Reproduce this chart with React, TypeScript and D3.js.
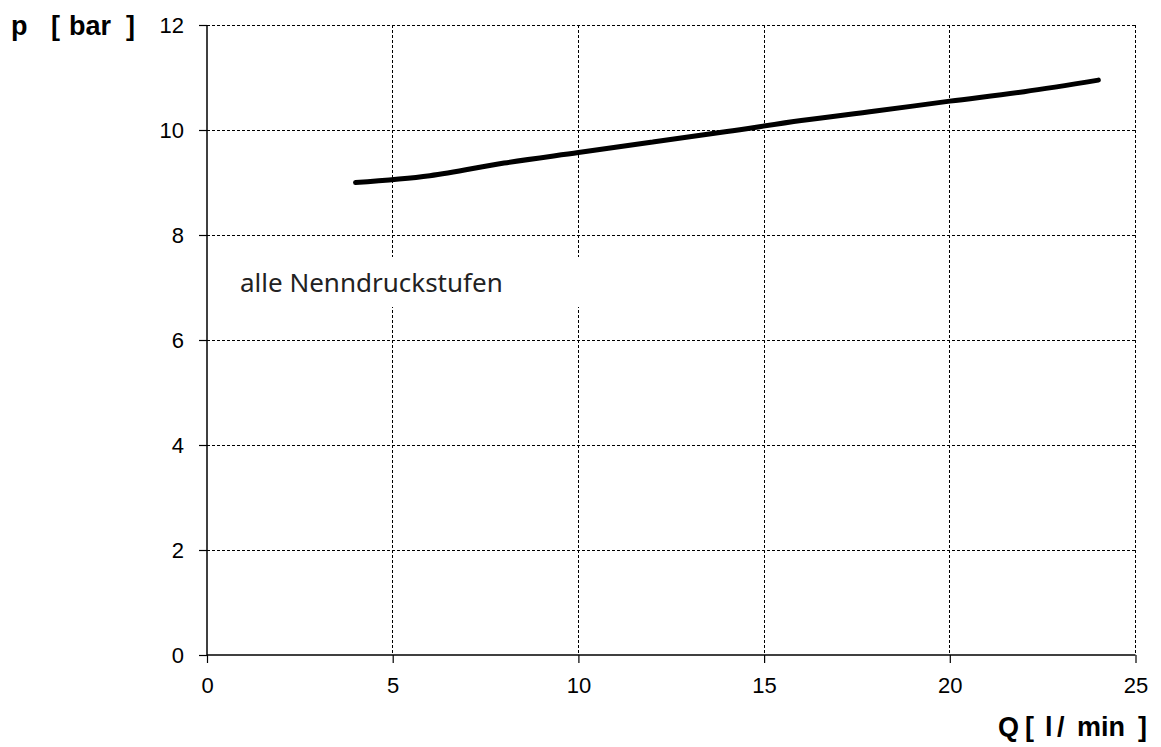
import { useEffect, useRef } from "react";
import * as d3 from "d3";

// flow rate Q [l/min]
const flow = [4, 6, 8, 10, 12, 14, 16, 18, 20, 22, 24];
// pressure p [bar]
const pressure = [9.0, 9.13, 9.37, 9.57, 9.77, 9.97, 10.18, 10.36, 10.55, 10.73, 10.95];

const xTicks = [0, 5, 10, 15, 20, 25];
const yTicks = [0, 2, 4, 6, 8, 10, 12];

export default function App() {
  const svgRef = useRef<SVGSVGElement>(null);
  const width = 1161;
  const height = 747;

  useEffect(() => {
    const svg = d3.select(svgRef.current);
    svg.selectAll("*").remove();

    const left = 207;
    const right = 1135.5;
    const top = 25;
    const bottom = 655;

    const x = d3.scaleLinear().domain([0, 25]).range([left, right]);
    const y = d3.scaleLinear().domain([0, 12]).range([bottom, top]);

    const font = "'Liberation Sans', Arial, sans-serif";

    // grid
    const grid = svg.append("g");
    yTicks.filter((t) => t > 0).forEach((t) => {
      grid.append("line")
        .attr("x1", left).attr("x2", right)
        .attr("y1", y(t)).attr("y2", y(t))
        .attr("stroke", "#000").attr("stroke-width", 1)
        .attr("stroke-dasharray", "3,2")
        .attr("shape-rendering", "crispEdges");
    });
    xTicks.filter((t) => t > 0).forEach((t) => {
      grid.append("line")
        .attr("x1", x(t)).attr("x2", x(t))
        .attr("y1", top).attr("y2", bottom)
        .attr("stroke", "#000").attr("stroke-width", 1)
        .attr("stroke-dasharray", "3,2")
        .attr("shape-rendering", "crispEdges");
    });

    // annotation box
    svg.append("rect")
      .attr("x", 222).attr("y", 257)
      .attr("width", 370).attr("height", 50)
      .attr("fill", "#fff");
    svg.append("text")
      .attr("x", 240).attr("y", 292)
      .attr("font-family", "'Noto Sans', 'Open Sans', sans-serif")
      .attr("font-size", 26)
      .attr("fill", "#222")
      .text("alle Nenndruckstufen");

    // axes
    const xAxis = d3.axisBottom(x).tickValues(xTicks).tickSize(8).tickPadding(14);
    const gx = svg.append("g").attr("transform", `translate(0,${bottom})`).call(xAxis);
    gx.select(".domain").attr("d", `M${left},0H${right}`).attr("stroke-width", 1.5);
    gx.selectAll(".tick line").attr("stroke-width", 1.2);
    gx.selectAll(".tick text")
      .attr("font-family", font).attr("font-size", 22).attr("fill", "#000");

    const yAxis = d3.axisLeft(y).tickValues(yTicks).tickSize(8).tickPadding(15);
    const gy = svg.append("g").attr("transform", `translate(${left},0)`).call(yAxis);
    gy.select(".domain").attr("d", `M0,${bottom}V${top}`).attr("stroke-width", 1.5);
    gy.selectAll(".tick line").attr("stroke-width", 1.2);
    gy.selectAll(".tick text")
      .attr("font-family", font).attr("font-size", 22).attr("fill", "#000");

    // curve
    const line = d3.line<number>()
      .x((_, i) => x(flow[i]))
      .y((d) => y(d))
      .curve(d3.curveMonotoneX);
    svg.append("path")
      .datum(pressure)
      .attr("d", line)
      .attr("fill", "none")
      .attr("stroke", "#000")
      .attr("stroke-width", 5)
      .attr("stroke-linecap", "round")
      .attr("stroke-linejoin", "round");

    // axis titles, spaced piece by piece like the original
    const title = (pieces: { t: string; x: number; anchor?: string }[], yy: number) => {
      pieces.forEach((p) => {
        svg.append("text")
          .attr("x", p.x).attr("y", yy)
          .attr("text-anchor", p.anchor || "start")
          .attr("font-family", font).attr("font-size", 27).attr("font-weight", "bold")
          .attr("fill", "#000")
          .text(p.t);
      });
    };
    title([
      { t: "p", x: 11 },
      { t: "[", x: 51 },
      { t: "bar", x: 69 },
      { t: "]", x: 135, anchor: "end" },
    ], 35);
    title([
      { t: "Q", x: 998 },
      { t: "[", x: 1025 },
      { t: "l", x: 1045 },
      { t: "/", x: 1057 },
      { t: "min", x: 1077 },
      { t: "]", x: 1147, anchor: "end" },
    ], 736);
  }, []);

  return (
    <svg
      ref={svgRef}
      width={width}
      height={height}
      style={{ position: "absolute", left: 0, top: 0, background: "#fff" }}
    ></svg>
  );
}
